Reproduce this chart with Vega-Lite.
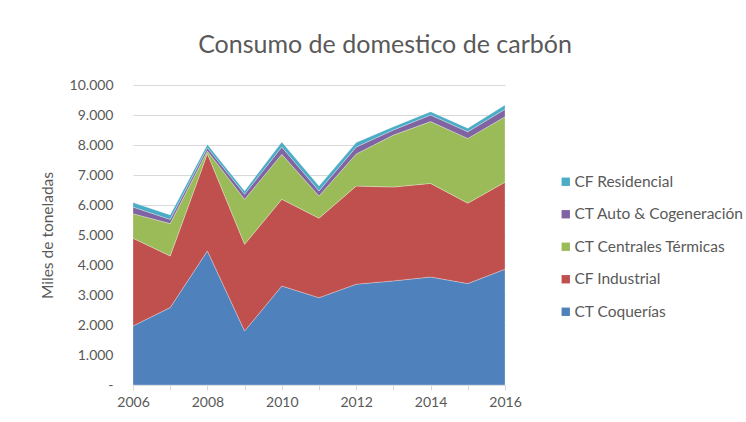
{
  "$schema": "https://vega.github.io/schema/vega-lite/v6.json",
  "autosize": "none",
  "width": 372,
  "height": 300,
  "padding": {"left": 133, "top": 85, "right": 241, "bottom": 37},
  "background": "white",
  "config": {
    "font": "Lato",
    "view": {"stroke": null},
    "axis": {"labelColor": "#595959", "titleColor": "#595959", "labelFont": "Lato", "titleFont": "Lato"}
  },
  "title": {
    "text": "Consumo de domestico de carbón",
    "font": "Lato",
    "fontSize": 25,
    "fontWeight": "normal",
    "color": "#595959",
    "anchor": "middle",
    "dx": 66,
    "offset": 20
  },
  "data": {
    "values": [
      {"year": 2006, "serie": "CT Coquerías", "orden": 1, "value": 1970},
      {"year": 2007, "serie": "CT Coquerías", "orden": 1, "value": 2580},
      {"year": 2008, "serie": "CT Coquerías", "orden": 1, "value": 4470},
      {"year": 2009, "serie": "CT Coquerías", "orden": 1, "value": 1800},
      {"year": 2010, "serie": "CT Coquerías", "orden": 1, "value": 3300},
      {"year": 2011, "serie": "CT Coquerías", "orden": 1, "value": 2910},
      {"year": 2012, "serie": "CT Coquerías", "orden": 1, "value": 3360},
      {"year": 2013, "serie": "CT Coquerías", "orden": 1, "value": 3470},
      {"year": 2014, "serie": "CT Coquerías", "orden": 1, "value": 3600},
      {"year": 2015, "serie": "CT Coquerías", "orden": 1, "value": 3380},
      {"year": 2016, "serie": "CT Coquerías", "orden": 1, "value": 3860},
      {"year": 2006, "serie": "CF Industrial", "orden": 2, "value": 2920},
      {"year": 2007, "serie": "CF Industrial", "orden": 2, "value": 1720},
      {"year": 2008, "serie": "CF Industrial", "orden": 2, "value": 3240},
      {"year": 2009, "serie": "CF Industrial", "orden": 2, "value": 2890},
      {"year": 2010, "serie": "CF Industrial", "orden": 2, "value": 2890},
      {"year": 2011, "serie": "CF Industrial", "orden": 2, "value": 2650},
      {"year": 2012, "serie": "CF Industrial", "orden": 2, "value": 3270},
      {"year": 2013, "serie": "CF Industrial", "orden": 2, "value": 3130},
      {"year": 2014, "serie": "CF Industrial", "orden": 2, "value": 3120},
      {"year": 2015, "serie": "CF Industrial", "orden": 2, "value": 2680},
      {"year": 2016, "serie": "CF Industrial", "orden": 2, "value": 2900},
      {"year": 2006, "serie": "CT Centrales Térmicas", "orden": 3, "value": 820},
      {"year": 2007, "serie": "CT Centrales Térmicas", "orden": 3, "value": 1080},
      {"year": 2008, "serie": "CT Centrales Térmicas", "orden": 3, "value": 90},
      {"year": 2009, "serie": "CT Centrales Térmicas", "orden": 3, "value": 1500},
      {"year": 2010, "serie": "CT Centrales Térmicas", "orden": 3, "value": 1500},
      {"year": 2011, "serie": "CT Centrales Térmicas", "orden": 3, "value": 740},
      {"year": 2012, "serie": "CT Centrales Térmicas", "orden": 3, "value": 1070},
      {"year": 2013, "serie": "CT Centrales Térmicas", "orden": 3, "value": 1730},
      {"year": 2014, "serie": "CT Centrales Térmicas", "orden": 3, "value": 2060},
      {"year": 2015, "serie": "CT Centrales Térmicas", "orden": 3, "value": 2160},
      {"year": 2016, "serie": "CT Centrales Térmicas", "orden": 3, "value": 2180},
      {"year": 2006, "serie": "CT Auto & Cogeneración", "orden": 4, "value": 220},
      {"year": 2007, "serie": "CT Auto & Cogeneración", "orden": 4, "value": 140},
      {"year": 2008, "serie": "CT Auto & Cogeneración", "orden": 4, "value": 110},
      {"year": 2009, "serie": "CT Auto & Cogeneración", "orden": 4, "value": 170},
      {"year": 2010, "serie": "CT Auto & Cogeneración", "orden": 4, "value": 240},
      {"year": 2011, "serie": "CT Auto & Cogeneración", "orden": 4, "value": 170},
      {"year": 2012, "serie": "CT Auto & Cogeneración", "orden": 4, "value": 230},
      {"year": 2013, "serie": "CT Auto & Cogeneración", "orden": 4, "value": 170},
      {"year": 2014, "serie": "CT Auto & Cogeneración", "orden": 4, "value": 220},
      {"year": 2015, "serie": "CT Auto & Cogeneración", "orden": 4, "value": 220},
      {"year": 2016, "serie": "CT Auto & Cogeneración", "orden": 4, "value": 250},
      {"year": 2006, "serie": "CF Residencial", "orden": 5, "value": 150},
      {"year": 2007, "serie": "CF Residencial", "orden": 5, "value": 150},
      {"year": 2008, "serie": "CF Residencial", "orden": 5, "value": 110},
      {"year": 2009, "serie": "CF Residencial", "orden": 5, "value": 110},
      {"year": 2010, "serie": "CF Residencial", "orden": 5, "value": 170},
      {"year": 2011, "serie": "CF Residencial", "orden": 5, "value": 160},
      {"year": 2012, "serie": "CF Residencial", "orden": 5, "value": 150},
      {"year": 2013, "serie": "CF Residencial", "orden": 5, "value": 110},
      {"year": 2014, "serie": "CF Residencial", "orden": 5, "value": 110},
      {"year": 2015, "serie": "CF Residencial", "orden": 5, "value": 120},
      {"year": 2016, "serie": "CF Residencial", "orden": 5, "value": 140}
    ]
  },
  "mark": {"type": "area", "stroke": "#ffffff", "strokeOpacity": 0.35, "strokeWidth": 0.8},
  "encoding": {
    "x": {
      "field": "year",
      "type": "quantitative",
      "scale": {"domain": [2006, 2016], "nice": false, "zero": false},
      "axis": {
        "title": null,
        "values": [2006, 2007, 2008, 2009, 2010, 2011, 2012, 2013, 2014, 2015, 2016],
        "labelExpr": "datum.value % 2 == 0 ? '' + datum.value : ''",
        "grid": false,
        "domainColor": "#d9d9d9",
        "tickColor": "#d9d9d9",
        "tickSize": 5,
        "labelFontSize": 14,
        "labelPadding": 5,
        "labelFlush": false
      }
    },
    "y": {
      "field": "value",
      "type": "quantitative",
      "stack": "zero",
      "scale": {"domain": [0, 10000], "nice": false},
      "axis": {
        "title": "Miles de toneladas",
        "titleFontSize": 15.5,
        "titleFontWeight": "normal",
        "titlePadding": 14,
        "values": [0, 1000, 2000, 3000, 4000, 5000, 6000, 7000, 8000, 9000, 10000],
        "labelExpr": "datum.value == 0 ? '-' : replace(format(datum.value, ','), ',', '.')",
        "labelFontSize": 14,
        "labelPadding": 20,
        "domain": false,
        "ticks": false,
        "gridColor": "#d9d9d9",
        "gridWidth": 1
      }
    },
    "order": {"field": "orden", "type": "quantitative", "sort": "ascending"},
    "color": {
      "field": "serie",
      "type": "nominal",
      "scale": {
        "domain": ["CF Residencial", "CT Auto & Cogeneración", "CT Centrales Térmicas", "CF Industrial", "CT Coquerías"],
        "range": ["#4bacc6", "#8064a2", "#9bbb59", "#c0504d", "#4f81bd"]
      },
      "legend": {
        "title": null,
        "orient": "none",
        "legendX": 425,
        "legendY": 89,
        "symbolType": "square",
        "symbolSize": 70,
        "symbolStrokeWidth": 0,
        "labelFontSize": 15.5,
        "labelColor": "#595959",
        "labelFont": "Lato",
        "labelOffset": 1,
        "rowPadding": 15.5,
        "labelLimit": 300
      }
    }
  }
}
